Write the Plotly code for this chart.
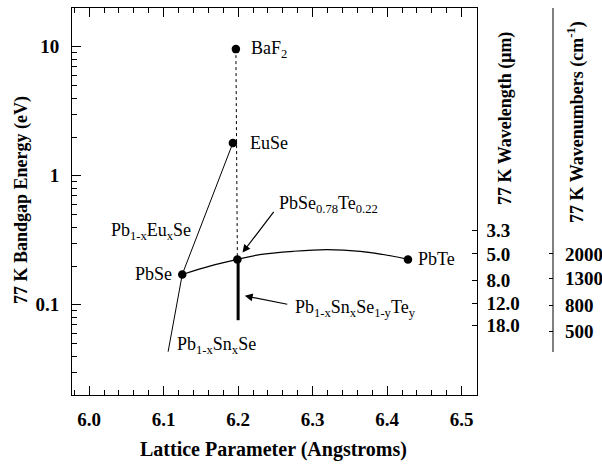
import math
import plotly.graph_objects as go

# Binary end-point compounds: lattice parameter (Å) and 77 K band gap (eV)
compounds = ["BaF<sub>2</sub>", "EuSe", "PbSe", "PbSe<sub>0.78</sub>Te<sub>0.22</sub>", "PbTe"]
lattice = [6.197, 6.193, 6.125, 6.199, 6.428]
bandgap = [9.6, 1.80, 0.172, 0.225, 0.225]

# PbSe -> PbTe alloy curve
pbsete_a = [6.125, 6.162, 6.199, 6.229, 6.274, 6.319, 6.364, 6.408, 6.428]
pbsete_e = [0.172, 0.1995, 0.225, 0.245, 0.260, 0.268, 0.260, 0.238, 0.225]

# Pb1-xEuxSe (EuSe -> PbSe) and Pb1-xSnxSe (PbSe -> narrow gap)
pbeuse_a = [6.193, 6.125]
pbeuse_e = [1.80, 0.172]
pbsnse_a = [6.125, 6.106]
pbsnse_e = [0.172, 0.0433]

# Lattice-matched Pb1-xSnxSe1-yTey line below PbSe0.78Te0.22
pbsnsete_a = [6.200, 6.200]
pbsnsete_e = [0.225, 0.076]

# Right-hand scales
wavelength_um = [3.3, 5.0, 8.0, 12.0, 18.0]
wavenumber_cm = [2000, 1300, 800, 500]
HC_EV_UM = 1.2398  # eV·µm

serif = "Liberation Serif, Times New Roman, serif"
black = "black"

fig = go.Figure()

# dotted line BaF2 -> PbSe0.78Te0.22
fig.add_trace(go.Scatter(x=[lattice[0], lattice[3]], y=[bandgap[0], bandgap[3]],
                         mode="lines", line=dict(color=black, width=1, dash="dot"),
                         hoverinfo="skip", showlegend=False))
fig.add_trace(go.Scatter(x=pbeuse_a, y=pbeuse_e, mode="lines",
                         line=dict(color=black, width=1), showlegend=False))
fig.add_trace(go.Scatter(x=pbsnse_a, y=pbsnse_e, mode="lines",
                         line=dict(color=black, width=1), showlegend=False))
fig.add_trace(go.Scatter(x=pbsete_a, y=pbsete_e, mode="lines",
                         line=dict(color=black, width=1.2, shape="spline"), showlegend=False))
fig.add_trace(go.Scatter(x=pbsnsete_a, y=pbsnsete_e, mode="lines",
                         line=dict(color=black, width=3), showlegend=False))
fig.add_trace(go.Scatter(x=lattice, y=bandgap, mode="markers",
                         marker=dict(color=black, size=8.5), showlegend=False))

# carriers for the two right-hand axes
fig.add_trace(go.Scatter(x=[lattice[4]], y=[bandgap[4]], yaxis="y2", mode="markers",
                         marker=dict(opacity=0), hoverinfo="skip", showlegend=False))
fig.add_trace(go.Scatter(x=[lattice[4]], y=[bandgap[4]], yaxis="y3", mode="markers",
                         marker=dict(opacity=0), hoverinfo="skip", showlegend=False))

yrange = [math.log10(0.02), math.log10(20)]
minor_vals = [m * 10 ** d for d in (-2, -1, 0) for m in range(2, 10)]
tickfont = dict(family=serif, size=19, color=black, weight="bold")
label_font = dict(family=serif, size=18, color=black)
title_font = dict(family=serif, size=20, color=black, weight="bold")
ytitle_font = dict(family=serif, size=18, color=black, weight="bold")

annotations = []

# compound labels
offsets = [(13, "left"), (15, "left"), (-8, "right"), None, (8, "left")]
for name, a, e, off in zip(compounds, lattice, bandgap, offsets):
    if off is None:
        continue
    annotations.append(dict(x=a, y=math.log10(e), text=name, showarrow=False,
                            xanchor=off[1], yanchor="middle", xshift=off[0],
                            font=label_font))

annotations += [
    dict(x=6.2516, y=math.log10(0.600), text=compounds[3], showarrow=False,
         xanchor="left", yanchor="middle", font=label_font),
    dict(x=6.1395, y=math.log10(0.370), text="Pb<sub>1-x</sub>Eu<sub>x</sub>Se",
         showarrow=False, xanchor="right", yanchor="middle", font=label_font),
    dict(x=6.115, y=math.log10(0.0485), text="Pb<sub>1-x</sub>Sn<sub>x</sub>Se",
         showarrow=False, xanchor="left", yanchor="middle", font=label_font),
    dict(x=6.274, y=math.log10(0.094),
         text="Pb<sub>1-x</sub>Sn<sub>x</sub>Se<sub>1-y</sub>Te<sub>y</sub>",
         showarrow=False, xanchor="left", yanchor="middle", font=label_font),
    # arrows
    dict(x=6.2059, y=math.log10(0.254), ax=6.2493, ay=math.log10(0.539),
         axref="x", ayref="y", text="", showarrow=True, arrowhead=2,
         arrowsize=1.3, arrowwidth=1.2, arrowcolor=black),
    dict(x=6.209, y=math.log10(0.1174), ax=6.268, ay=math.log10(0.1005),
         axref="x", ayref="y", text="", showarrow=True, arrowhead=2,
         arrowsize=1.3, arrowwidth=1.2, arrowcolor=black),
    # axis titles (paper coordinates; plot area spans x 72..553 px, y 8..395 px)
    dict(x=(21 - 72) / 481, y=(395 - 200) / 387, xref="paper", yref="paper",
         text="77 K Bandgap Energy (eV)", textangle=-90, showarrow=False,
         xanchor="center", yanchor="middle", font=ytitle_font),
    dict(x=(273 - 72) / 481, y=(395 - 449) / 387, xref="paper", yref="paper",
         text="Lattice Parameter (Angstroms)", showarrow=False,
         xanchor="center", yanchor="middle", font=title_font),
    dict(x=(506 - 72) / 481, y=(395 - 119) / 387, xref="paper", yref="paper",
         text="77 K Wavelength (μm)", textangle=-90, showarrow=False,
         xanchor="center", yanchor="middle", font=ytitle_font),
    dict(x=(576 - 72) / 481, y=(395 - 122) / 387, xref="paper", yref="paper",
         text="77 K Wavenumbers (cm<sup>-1</sup>)", textangle=-90, showarrow=False,
         xanchor="center", yanchor="middle", font=ytitle_font),
]

fig.update_layout(
    width=602, height=464,
    margin=dict(l=72, r=49, t=8, b=69, autoexpand=False),
    paper_bgcolor="white", plot_bgcolor="white",
    showlegend=False,
    annotations=annotations,
    shapes=[dict(type="line", xref="paper", yref="paper", x0=1, x1=1, y0=1, y1=0.111,
                 line=dict(color=black, width=1))],
    xaxis=dict(domain=[0, 404.5 / 481], range=[5.977, 6.520], automargin=False,
               tickvals=[6.0, 6.1, 6.2, 6.3, 6.4, 6.5],
               ticktext=["6.0", "6.1", "6.2", "6.3", "6.4", "6.5"],
               ticks="inside", ticklen=9, tickcolor=black, tickwidth=1,
               minor=dict(dtick=0.02, tick0=6.0, ticks="inside", ticklen=5,
                          tickcolor=black, showgrid=False),
               showline=True, linecolor=black, linewidth=1, mirror="ticks",
               showgrid=False, zeroline=False, tickfont=tickfont,
               ticklabelstandoff=7),
    yaxis=dict(type="log", range=yrange, automargin=False,
               tickvals=[0.1, 1, 10], ticktext=["0.1", "1", "10"],
               ticks="inside", ticklen=9, tickcolor=black, tickwidth=1,
               minor=dict(tickvals=minor_vals, ticks="inside", ticklen=5,
                          tickcolor=black, showgrid=False),
               showline=True, linecolor=black, linewidth=1, mirror=True,
               showgrid=False, zeroline=False, tickfont=tickfont,
               ticklabelstandoff=8),
    yaxis2=dict(type="log", range=yrange, overlaying="y", side="right", anchor="x",
                automargin=False,
                tickvals=[HC_EV_UM / w for w in wavelength_um],
                ticktext=[f"{w:.1f}" for w in wavelength_um],
                ticks="inside", ticklen=5, tickcolor=black,
                showline=False, showgrid=False, zeroline=False, tickfont=tickfont,
                ticklabelstandoff=9),
    yaxis3=dict(type="log", range=yrange, overlaying="y", side="right", anchor="free",
                position=1.0, automargin=False,
                tickvals=[n * HC_EV_UM * 1e-4 for n in wavenumber_cm],
                ticktext=[str(n) for n in wavenumber_cm],
                ticks="inside", ticklen=4, tickcolor=black,
                showline=False, showgrid=False, zeroline=False, tickfont=tickfont,
                ticklabelstandoff=11),
)

fig.write_html("out.html")
